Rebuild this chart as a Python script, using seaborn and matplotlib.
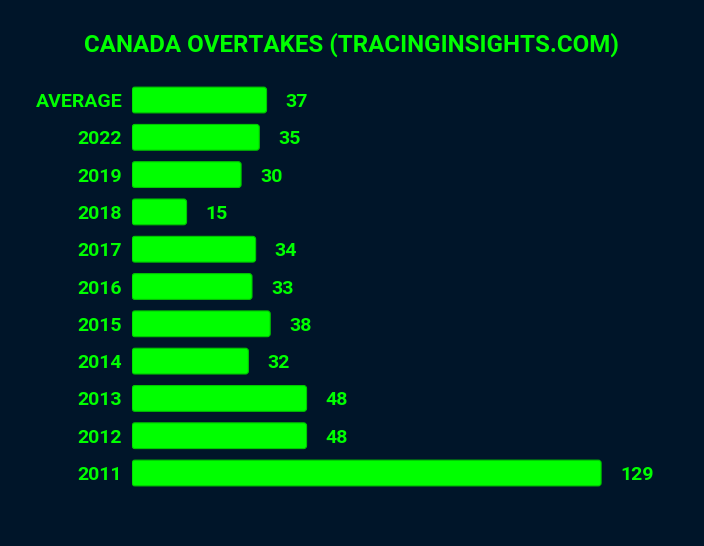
import matplotlib
matplotlib.use("Agg")
import matplotlib.pyplot as plt
from matplotlib.patches import FancyBboxPatch
import seaborn as sns
import pandas as pd

# Chart data
races = ["AVERAGE", "2022", "2019", "2018", "2017", "2016", "2015", "2014", "2013", "2012", "2011"]
overtakes = [37, 35, 30, 15, 34, 33, 38, 32, 48, 48, 129]

BG = "#001529"
GREEN = "#00ff00"

sns.set_theme(style="white")
plt.rcParams["font.family"] = ["Roboto", "DejaVu Sans"]

df = pd.DataFrame({"race": races, "overtakes": overtakes})

fig = plt.figure(figsize=(7.04, 5.46), dpi=100)
fig.patch.set_facecolor(BG)
ax = fig.add_axes([132 / 704, 0.0995, (660 - 132) / 704, 0.7515])
ax.set_facecolor(BG)

sns.barplot(data=df, x="overtakes", y="race", color=GREEN, saturation=1,
            width=0.69, ax=ax, orient="h")

# swap plain rectangles for slightly rounded ones
for p in list(ax.patches):
    x, y = p.get_x(), p.get_y()
    w, h = p.get_width(), p.get_height()
    rb = FancyBboxPatch((x, y), w, h, boxstyle="round,pad=0,rounding_size=0.8",
                        mutation_aspect=0.097, facecolor=GREEN,
                        edgecolor="#00c800", linewidth=0.8)
    p.remove()
    ax.add_patch(rb)

for i, v in enumerate(overtakes):
    ax.text(v + 5.2, i, str(v), va="center_baseline", ha="left", color=GREEN,
            fontsize=14, fontweight="bold")

ax.set_xlim(0, 145.2)
ax.set_ylim(10.5, -0.5)
ax.set_xlabel("")
ax.set_ylabel("")
ax.set_xticks([])
ax.tick_params(axis="y", length=0, pad=7, labelsize=14, labelcolor=GREEN)
for lbl in ax.get_yticklabels():
    lbl.set_fontweight("bold")
    lbl.set_verticalalignment("center_baseline")
for s in ax.spines.values():
    s.set_visible(False)

fig.text(0.5, 1 - 42 / 546, "CANADA OVERTAKES (TRACINGINSIGHTS.COM)",
         ha="center", va="center_baseline", color=GREEN, fontsize=17.4,
         fontweight="bold")

fig.savefig("out.png", dpi=100, facecolor=BG)
